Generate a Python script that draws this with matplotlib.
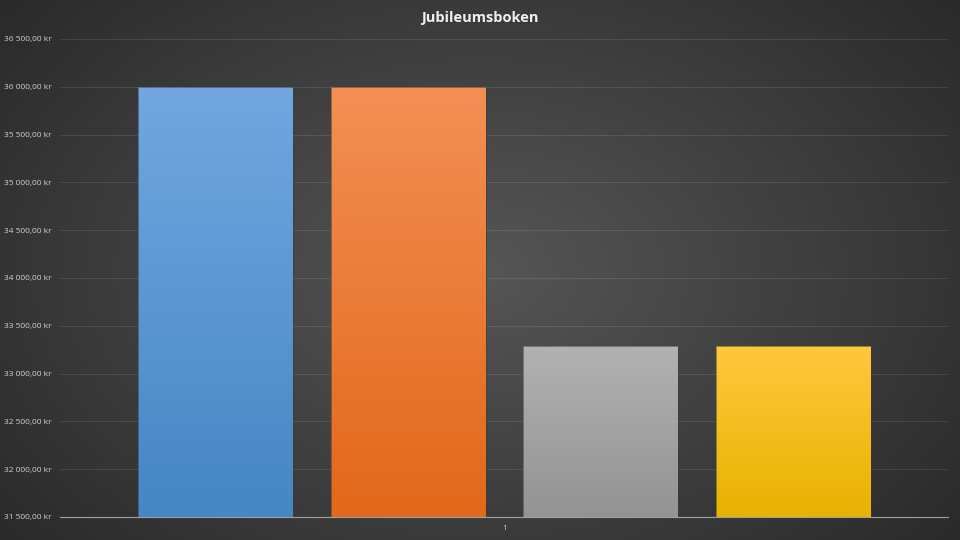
import numpy as np
import matplotlib
matplotlib.use('Agg')
import matplotlib.pyplot as plt
from matplotlib.colors import LinearSegmentedColormap

title = 'Jubileumsboken'
category = '1'
values = [36000, 36000, 33290, 33290]
top_colors = ['#72a7e0', '#f38f55', '#b2b2b2', '#ffc83e']
bottom_colors = ['#4586c4', '#e2681a', '#939393', '#e8b200']
yticks = np.arange(31500, 36501, 500)

plt.rcParams['font.family'] = ['Open Sans', 'DejaVu Sans']

fig = plt.figure(figsize=(9.6, 5.4), dpi=100)

# radial gradient background
bg = fig.add_axes([0, 0, 1, 1], zorder=-10)
yy, xx = np.mgrid[0:540, 0:960]
r = np.sqrt(((xx - 480) / 620) ** 2 + ((yy - 270) / 420) ** 2)
r = np.clip(r, 0, 1)
bg_cmap = LinearSegmentedColormap.from_list('bg', ['#565656', '#2a2a2a'])
bg.imshow(r, cmap=bg_cmap, aspect='auto', extent=[0, 1, 0, 1])
bg.axis('off')

ax = fig.add_axes([0.0625, 0.0426, 0.925, 0.8852])
ax.patch.set_alpha(0)

x = np.arange(len(values))
bars = ax.bar(x, values, width=0.804, color='none', zorder=3)

grad = np.linspace(1, 0, 256).reshape(-1, 1)
for b, c0, c1 in zip(bars, top_colors, bottom_colors):
    cm = LinearSegmentedColormap.from_list('g', [c1, c0])
    x0, w = b.get_x(), b.get_width()
    h = b.get_height()
    im = ax.imshow(grad, cmap=cm, aspect='auto', zorder=3,
                   extent=[x0, x0 + w, yticks[0], h])
    im.set_clip_path(b)
    ax.add_patch(plt.Rectangle((x0, yticks[0]), w, h - yticks[0], fill=False,
                               edgecolor='#3a3a3a', linewidth=0.6, alpha=0.6, zorder=4))

ax.set_xlim(-0.807, 3.801)
ax.set_ylim(yticks[0], yticks[-1])
ax.set_yticks(yticks)
ax.set_yticklabels([f'{v:,.2f} kr'.replace(',', ' ').replace('.', ',') for v in yticks],
                   fontsize=6, color='#d0d0d0')
ax.set_xticks([1.5])
ax.set_xticklabels([category], fontsize=6, color='#d0d0d0')
ax.tick_params(length=0, pad=6)
ax.grid(axis='y', color='white', alpha=0.1, linewidth=0.8, zorder=0)
for s in ['top', 'right', 'left']:
    ax.spines[s].set_visible(False)
ax.spines['bottom'].set_color('#a0a0a0')
ax.spines['bottom'].set_linewidth(0.8)

fig.text(0.5, 0.966, title, ha='center', va='center', fontsize=10.5,
         fontweight='bold', color='#f0f0f0')

fig.savefig('out.png', dpi=100)
